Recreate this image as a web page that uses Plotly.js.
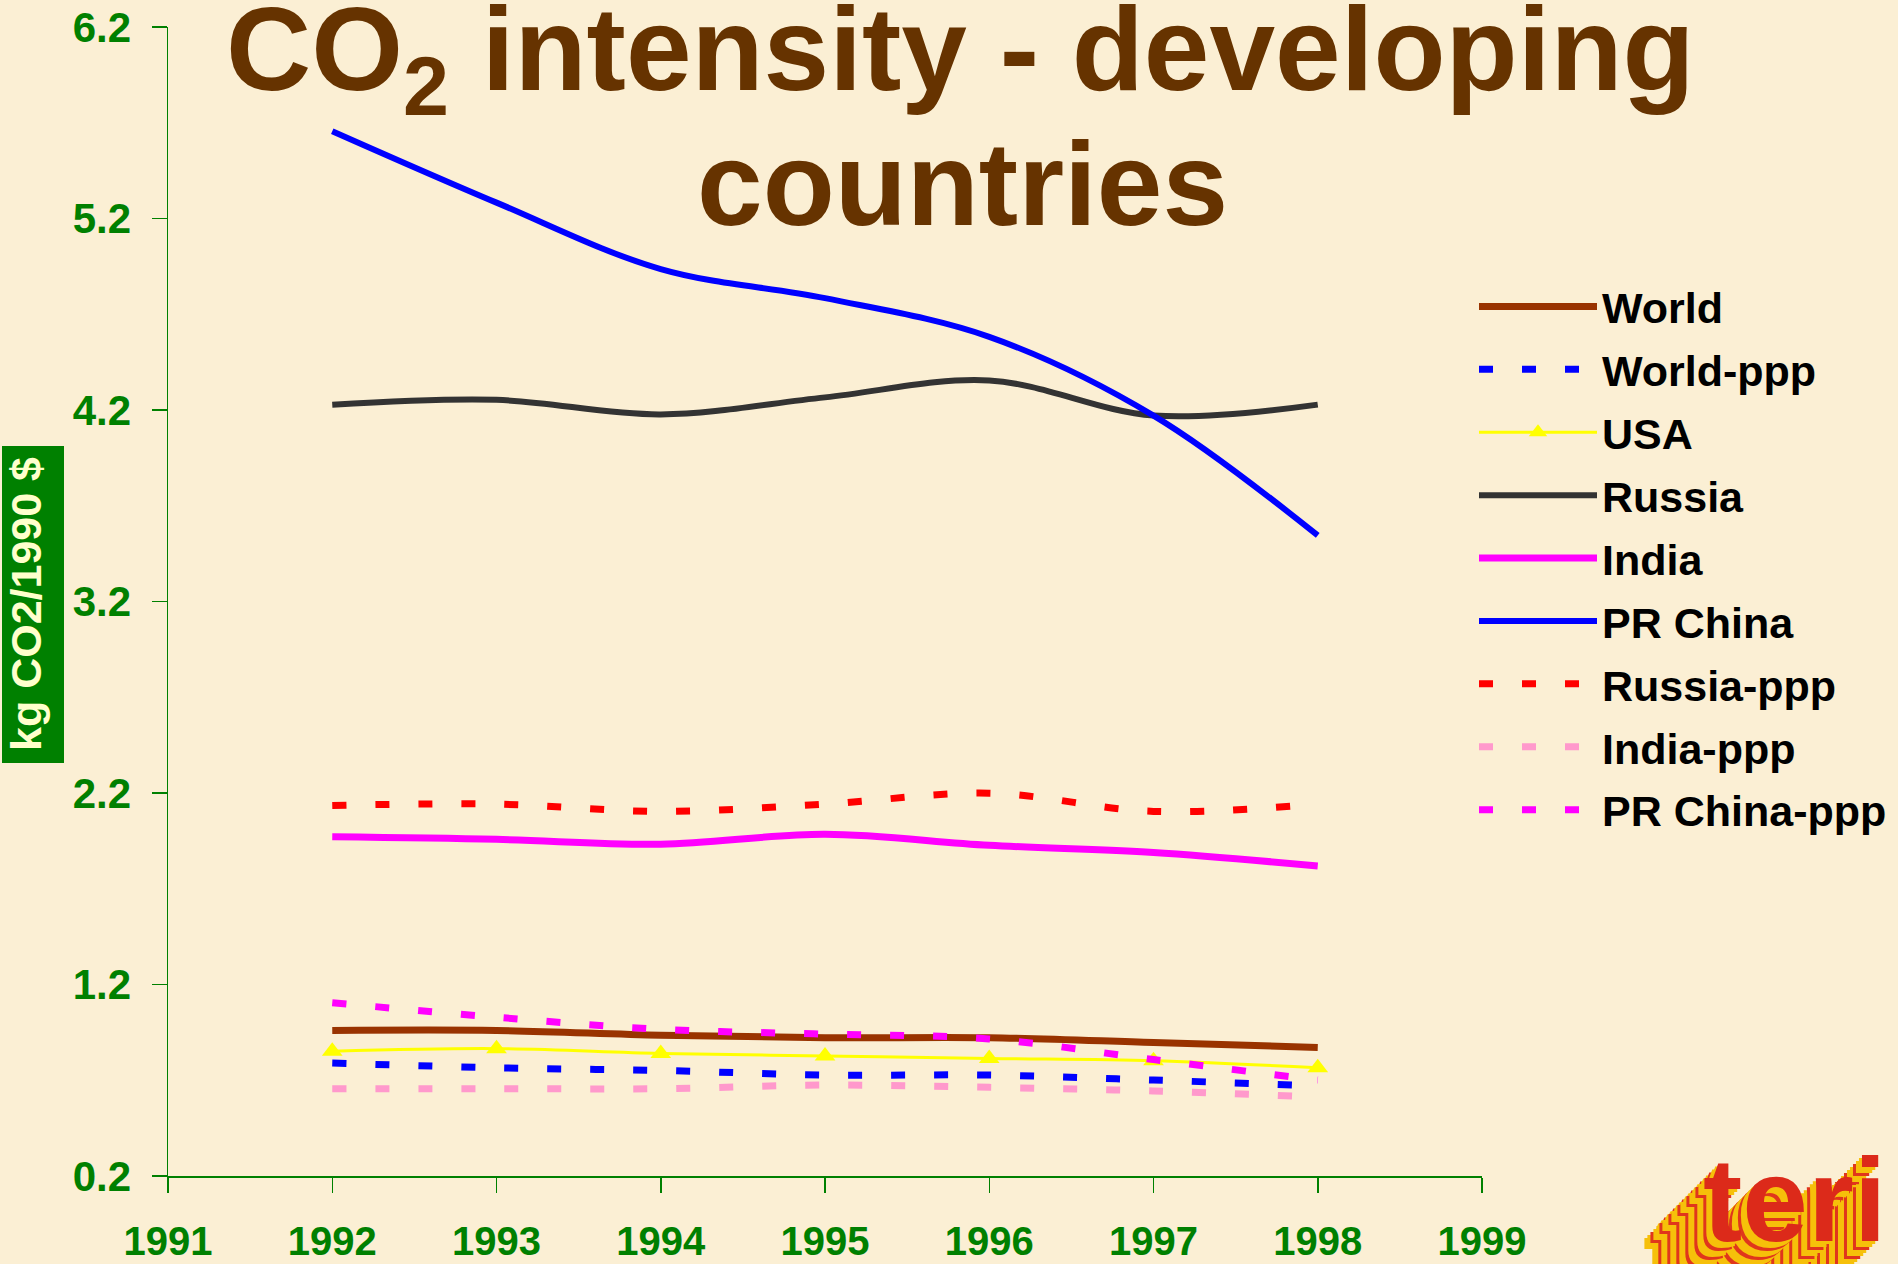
<!DOCTYPE html>
<html>
<head>
<meta charset="utf-8">
<script src="https://cdn.plot.ly/plotly-3.0.1.min.js"></script>
<style>
  html, body { margin: 0; padding: 0; background: #FBEFD4; }
  #chart { width: 1898px; height: 1264px; }
</style>
</head>
<body>
<div id="chart"></div>
<script>
// ---- data ----
const years = [1992, 1993, 1994, 1995, 1996, 1997, 1998];
const world      = [0.96, 0.96, 0.935, 0.922, 0.922, 0.897, 0.871];
const worldPpp   = [0.79, 0.765, 0.751, 0.727, 0.727, 0.701, 0.67];
const usa        = [0.852, 0.865, 0.84, 0.827, 0.814, 0.802, 0.765];
const russia     = [4.228, 4.253, 4.177, 4.266, 4.354, 4.171, 4.228];
const india      = [1.971, 1.958, 1.933, 1.984, 1.927, 1.889, 1.819];
const china      = [5.656, 5.283, 4.936, 4.784, 4.582, 4.171, 3.545];
const russiaPpp  = [2.135, 2.142, 2.104, 2.142, 2.199, 2.104, 2.142];
const indiaPpp   = [0.656, 0.656, 0.656, 0.675, 0.663, 0.644, 0.612];
const chinaPpp   = [1.105, 1.029, 0.966, 0.941, 0.916, 0.808, 0.701];
const seriesNames = ["World", "World-ppp", "USA", "Russia", "India", "PR China", "Russia-ppp", "India-ppp", "PR China-ppp"];
const yTicks = [0.2, 1.2, 2.2, 3.2, 4.2, 5.2, 6.2];
const xTicks = [1991, 1992, 1993, 1994, 1995, 1996, 1997, 1998, 1999];

const dashPat = "14px,29px";
function solid(y, name, color, width) {
  return { x: years, y: y, name: name, legendgroup: name, type: "scatter", mode: "lines",
           line: { color: color, width: width, shape: "spline", smoothing: 1 } };
}
function dashed(y, name, color) {
  return { x: years, y: y, name: name, legendgroup: name, type: "scatter", mode: "lines",
           line: { color: color, width: 7, dash: dashPat, shape: "spline", smoothing: 1 } };
}
const traces = [
  solid(world, seriesNames[0], "#993300", 7),
  dashed(worldPpp, seriesNames[1], "#0000FF"),
  { x: years, y: usa, name: seriesNames[2], legendgroup: seriesNames[2], type: "scatter", mode: "lines+markers",
    line: { color: "#FFFF00", width: 3, shape: "spline", smoothing: 1 },
    marker: { symbol: "triangle-up", size: 18, color: "#FFFF00" } },
  solid(russia, seriesNames[3], "#333333", 6),
  solid(india, seriesNames[4], "#FF00FF", 7),
  solid(china, seriesNames[5], "#0000FF", 6),
  dashed(russiaPpp, seriesNames[6], "#FF0000"),
  dashed(indiaPpp, seriesNames[7], "#FF99CC"),
  dashed(chinaPpp, seriesNames[8], "#FF00FF")
];

// pixel helpers for paper coordinates (plot area 168..1482 x, 27..1176 y)
const L = 168, R = 1482, T = 27, B = 1176;
const px = v => (v - L) / (R - L);
const py = v => (B - v) / (B - T);

// extruded, striped shadow for the logo, built as a CSS text-shadow list
const shadowParts = [];
for (let i = 1; i <= 20; i++) {
  shadowParts.push((-3 * i) + "px " + (3 * i) + "px 0 " + (i % 3 === 0 ? "#E0361C" : "#F6C00A"));
}

const annotations = [
  { text: "CO<sub>2</sub> intensity - developing", xref: "paper", yref: "paper",
    x: px(960), y: py(58), xanchor: "center", yanchor: "middle", showarrow: false,
    font: { family: "Liberation Sans, Arial, sans-serif", size: 118, color: "#663300", weight: "bold" } },
  { text: "countries", xref: "paper", yref: "paper",
    x: px(962), y: py(184), xanchor: "center", yanchor: "middle", showarrow: false,
    font: { family: "Liberation Sans, Arial, sans-serif", size: 118, color: "#663300", weight: "bold" } },
  { text: "kg CO2/1990 $", xref: "paper", yref: "paper", textangle: -90,
    x: px(26), y: py(604), xanchor: "center", yanchor: "middle", showarrow: false,
    font: { family: "Liberation Sans, Arial, sans-serif", size: 43, color: "#FFFFCC", weight: "bold" } },
  { text: "teri", xref: "paper", yref: "paper", x: px(1795), y: py(1200),
    xanchor: "center", yanchor: "middle", showarrow: false,
    font: { family: "Liberation Sans, Arial, sans-serif", size: 118, weight: "bold", color: "#DC2A1A",
            shadow: shadowParts.join(", ") } }
];

const layout = {
  width: 1898, height: 1264,
  paper_bgcolor: "#FBEFD4", plot_bgcolor: "#FBEFD4",
  margin: { l: L, r: 1898 - R, t: T, b: 1264 - B, pad: 0, autoexpand: false },
  showlegend: true,
  legend: {
    x: px(1474), y: py(272), xanchor: "left", yanchor: "top",
    bgcolor: "rgba(0,0,0,0)", itemwidth: 118, tracegroupgap: 4,
    font: { family: "Liberation Sans, Arial, sans-serif", size: 43, color: "#000000", weight: "bold" },
    traceorder: "grouped"
  },
  xaxis: {
    range: [1991, 1999], tickvals: xTicks, ticktext: xTicks.map(String),
    showgrid: false, zeroline: false, showline: true, linecolor: "#008000", linewidth: 1.5,
    ticks: "outside", ticklen: 15, tickwidth: 1.5, tickcolor: "#008000",
    ticklabelstandoff: 14,
    tickfont: { family: "Liberation Sans, Arial, sans-serif", size: 40, color: "#008000", weight: "bold" }
  },
  yaxis: {
    range: [0.2, 6.2], tickvals: yTicks, ticktext: yTicks.map(v => v.toFixed(1)),
    showgrid: false, zeroline: false, showline: true, linecolor: "#008000", linewidth: 1.5,
    ticks: "outside", ticklen: 15, tickwidth: 1.5, tickcolor: "#008000",
    ticklabelstandoff: 12,
    tickfont: { family: "Liberation Sans, Arial, sans-serif", size: 42, color: "#008000", weight: "bold" }
  },
  shapes: [
    { type: "rect", xref: "paper", yref: "paper", layer: "below",
      x0: px(2), x1: px(64), y0: py(763), y1: py(446),
      fillcolor: "#008000", line: { width: 0 } }
  ],
  annotations: annotations
};

Plotly.newPlot("chart", traces, layout, { staticPlot: true, displayModeBar: false });
</script>
</body>
</html>
